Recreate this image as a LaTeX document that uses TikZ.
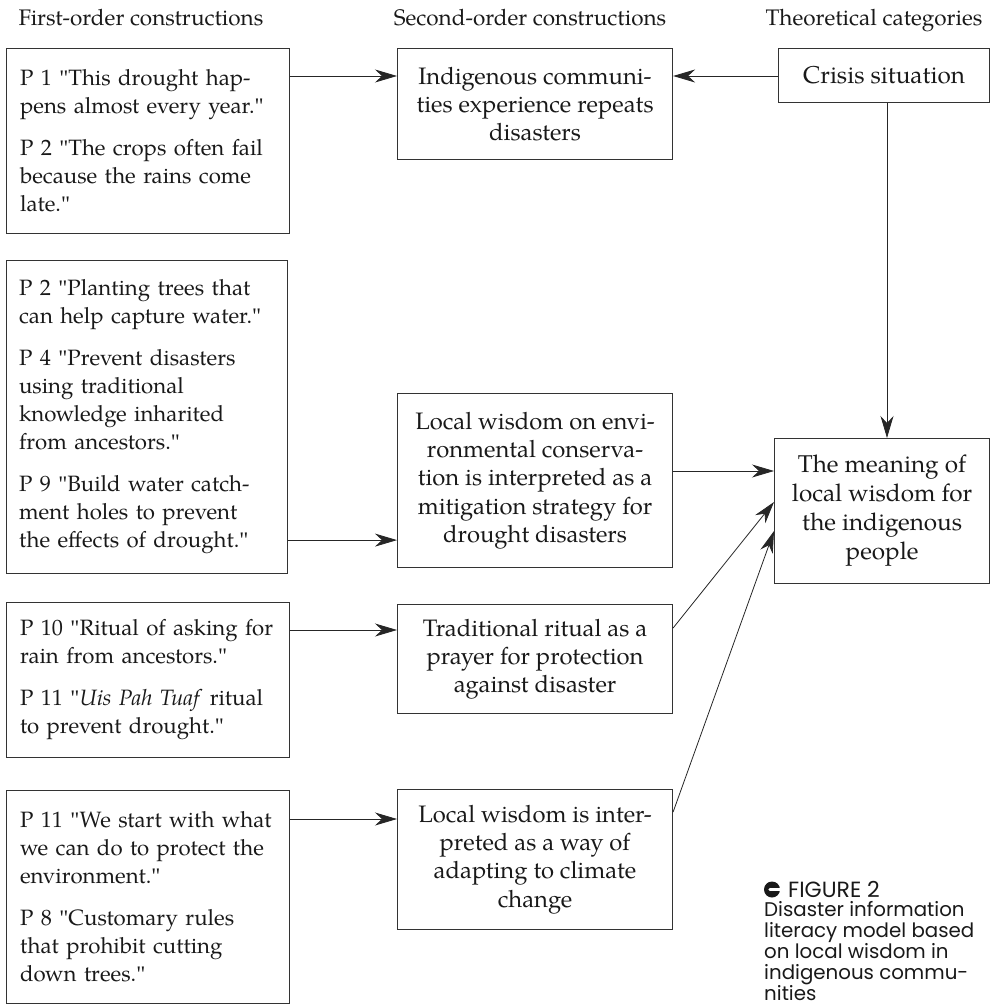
\documentclass[tikz,border=0pt]{standalone}
\usepackage{fontspec}
\setmainfont{TeX Gyre Pagella}
\newfontfamily\capfont{Poppins}
\newfontfamily\qfont{Liberation Serif}
\newcommand\dq{{\qfont\symbol{34}}}
\usetikzlibrary{arrows.meta}
\newcommand\leftfont{\fontsize{22.2}{28}\selectfont}
\newcommand\midfont{\fontsize{23.8}{28.3}\selectfont}
\newcommand\rightfont{\fontsize{24.3}{29}\selectfont}
\begin{document}
\begin{tikzpicture}[x=1pt,y=-1pt,
  box/.style={draw=black!80, line width=1.1pt, inner sep=0pt, anchor=north west, text=black!90},
  lbox/.style={box, font=\leftfont, align=left, text width=256pt, inner xsep=13.5pt},
  mbox/.style={box, font=\midfont, align=center, minimum width=275pt},
  rbox/.style={box, font=\rightfont, align=center},
  head/.style={font=\fontsize{22.5}{28}\selectfont, text=black!90, anchor=base, inner sep=0pt},
  conn/.style={draw=black!85, line width=0.8pt, -{Stealth[length=22pt,width=13pt,inset=7pt]}}]
\useasboundingbox (0,0) rectangle (991,1006);
% headers
\node[head] (h1) at (141,26) {First-order constructions};
\node[head] (h2) at (530,26) {Second-order constructions};
\node[head] (h3) at (874,26) {Theoretical categories};
% first-order boxes
\node[lbox, minimum height=185pt] (a) at (6,48) {P 1 \dq This drought hap-\\pens almost every year.\dq\\[14pt]P 2 \dq The crops often fail\\because the rains come\\late.\dq};
\node[lbox, minimum height=313pt, inner xsep=12.5pt] (b) at (6,260) {P 2 \dq Planting trees that\\can help capture water.\dq\\[14pt]P 4 \dq Prevent disasters\\using traditional\\knowledge inharited\\from ancestors.\dq\\[14pt]P 9 \dq Build water catch-\\ment holes to prevent\\the effects of drought.\dq};
\node[lbox, minimum height=155pt] (c) at (6,602) {P 10 \dq Ritual of asking for\\rain from ancestors.\dq\\[14pt]P 11 \dq\textit{Uis Pah Tuaf} ritual\\to prevent drought.\dq};
\node[lbox, minimum height=213pt] (d) at (6,790) {P 11 \dq We start with what\\we can do to protect the\\environment.\dq\\[14pt]P 8 \dq Customary rules\\that prohibit cutting\\down trees.\dq};
% second-order boxes
\node[mbox, minimum height=111pt] (m1) at (397,48) {Indigenous communi-\\ties experience repeats\\disasters};
\node[mbox, minimum height=174pt] (m2) at (397,393) {Local wisdom on envi-\\ronmental conserva-\\tion is interpreted as a\\mitigation strategy for\\drought disasters};
\node[mbox, minimum height=109pt] (m3) at (397,604) {Traditional ritual as a\\prayer for protection\\against disaster};
\node[mbox, minimum height=140pt] (m4) at (397,789) {Local wisdom is inter-\\preted as a way of\\adapting to climate\\change};
% theoretical categories
\node[rbox, minimum width=211pt, minimum height=54pt] (cr) at (778,48) {Crisis situation};
\node[rbox, minimum width=215pt, minimum height=145pt] (mn) at (774,438) {The meaning of\\local wisdom for\\the indigenous\\people};
% connectors
\draw[conn] ([yshift=-28pt]a.north east) -- ([yshift=-28pt]m1.north west);
\draw[conn] ([yshift=-28pt]cr.north west) -- ([yshift=-28pt]m1.north east);
\draw[conn] ([yshift=34pt]b.south east) -- ([yshift=28pt]m2.south west);
\draw[conn] ([yshift=-28pt]c.north east) -- ([yshift=-26pt]m3.north west);
\draw[conn] ([yshift=-29pt]d.north east) -- ([yshift=-30pt]m4.north west);
\draw[conn] ([xshift=109pt]cr.south west) -- ([xshift=113pt]mn.north west);
\draw[conn] ([yshift=-78pt]m2.north east) -- ([yshift=-33pt]mn.north west);
\draw[conn] ([yshift=-24pt]m3.north east) -- ([yshift=-64pt]mn.north west);
\draw[conn] ([yshift=-23pt]m4.north east) -- ([yshift=-93pt]mn.north west);
% caption
\fill[black!90] (772,889.5) circle (8);
\fill[white] (770,887.8) rectangle (781,891.2);
\fill[white] (770,889.5) circle (1.7);
\node[anchor=base west, inner sep=0pt, font=\capfont\fontsize{22}{22}\selectfont, text=black!90] (fig) at (788,897) {FIGURE 2};
\node[anchor=base west, inner sep=0pt, align=left, font=\capfont\fontsize{19.8}{21}\selectfont, text=black!90] (cap) at (764,1000) {Disaster information\\literacy model based\\on local wisdom in\\indigenous commu-\\nities};
\end{tikzpicture}
\end{document}
